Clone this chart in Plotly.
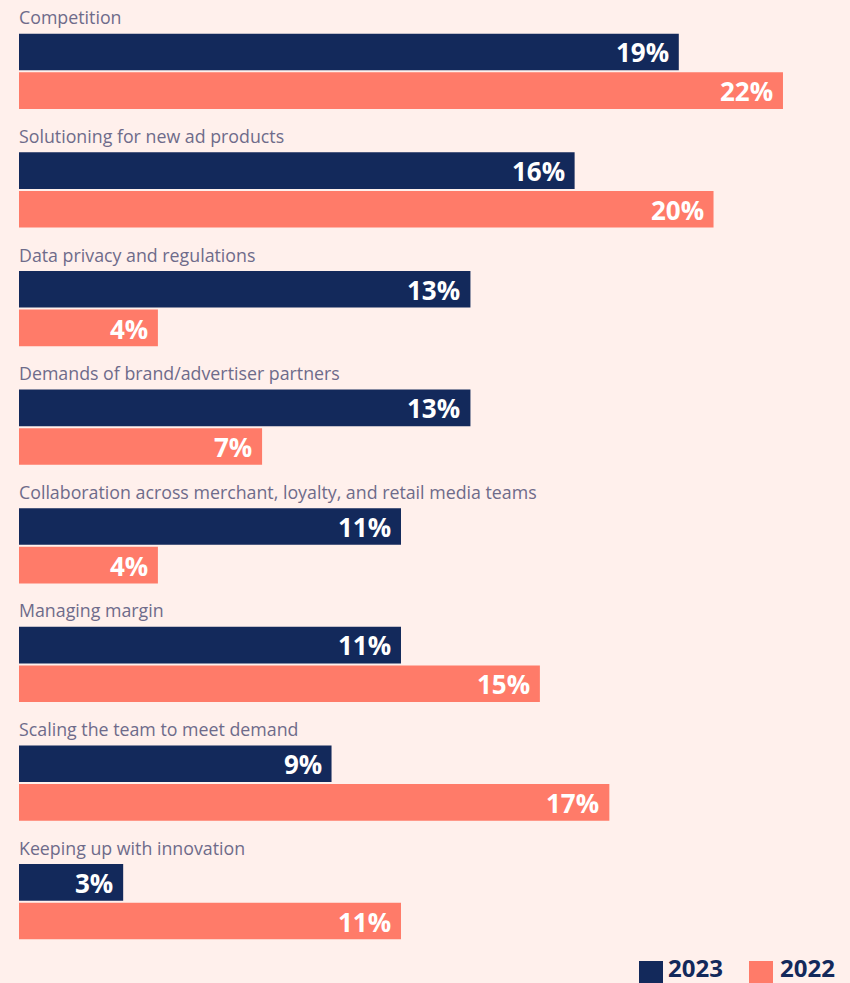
import plotly.graph_objects as go

# Challenges for retail media networks, share of respondents by year
categories = [
    "Competition",
    "Solutioning for new ad products",
    "Data privacy and regulations",
    "Demands of brand/advertiser partners",
    "Collaboration across merchant, loyalty, and retail media teams",
    "Managing margin",
    "Scaling the team to meet demand",
    "Keeping up with innovation",
]
values_2023 = [19, 16, 13, 13, 11, 11, 9, 3]
values_2022 = [22, 20, 4, 7, 4, 15, 17, 11]
series_names = ["2023", "2022"]

NAVY = "#13295B"
CORAL = "#FF7B69"
BG = "#FFF0EC"
LABEL_GREY = "#6E6B8A"
FONT = "'Open Sans', Lato, sans-serif"
BOLD_FONT = "'Open Sans', Lato, sans-serif"

W, H = 850, 983
ML, MR, MT, MB = 19, 0, 12, 22
PW, PH = W - ML - MR, H - MT - MB

fig = go.Figure()
for name, vals, color in [
    (series_names[0], values_2023, NAVY),
    (series_names[1], values_2022, CORAL),
]:
    fig.add_trace(go.Bar(
        name=name,
        y=categories,
        x=vals,
        orientation="h",
        marker=dict(color=color, line=dict(width=0)),
        showlegend=False,
        hoverinfo="skip",
    ))

annotations = []
# category titles above each bar pair
for cat in categories:
    annotations.append(dict(
        x=0, y=cat, xref="x", yref="y",
        text=cat, showarrow=False,
        xanchor="left", yanchor="middle",
        xshift=-2, yshift=54,
        font=dict(family=FONT, size=17.8, color=LABEL_GREY),
    ))

# value labels at the end of each bar
for vals, shift in [(values_2023, 19), (values_2022, -20)]:
    for cat, v in zip(categories, vals):
        annotations.append(dict(
            x=v, y=cat, xref="x", yref="y",
            text=f"<b>{v}%</b>", showarrow=False,
            xanchor="right", yanchor="middle",
            xshift=-8, yshift=shift,
            font=dict(family=BOLD_FONT, size=26, color="white"),
        ))

# legend: swatches and year labels (pixel positions converted to paper units)
def px_x(px):
    return (px - ML) / PW


def px_y(py):
    return (H - MB - py) / PH


shapes = []
legend_items = [(series_names[0], NAVY, 639, 666), (series_names[1], CORAL, 749, 778)]
for name, color, sx, tx in legend_items:
    shapes.append(dict(
        type="rect", xref="paper", yref="paper",
        x0=px_x(sx), x1=px_x(sx + 24),
        y0=px_y(984), y1=px_y(961),
        fillcolor=color, line=dict(width=0),
    ))
    annotations.append(dict(
        x=px_x(tx), y=px_y(968), xref="paper", yref="paper",
        text=f"<b>{name}</b>", showarrow=False,
        xanchor="left", yanchor="middle",
        font=dict(family=BOLD_FONT, size=24, color=NAVY),
    ))

fig.update_layout(
    width=W, height=H,
    margin=dict(l=ML, r=MR, t=MT, b=MB),
    paper_bgcolor=BG, plot_bgcolor=BG,
    barmode="group",
    bargap=0.35,
    bargroupgap=0.05,
    xaxis=dict(range=[0, 23.93], visible=False, fixedrange=True),
    yaxis=dict(range=[len(categories) - 0.5, -0.5], visible=False, fixedrange=True),
    annotations=annotations,
    shapes=shapes,
    showlegend=False,
)

fig.write_html("out.html")
